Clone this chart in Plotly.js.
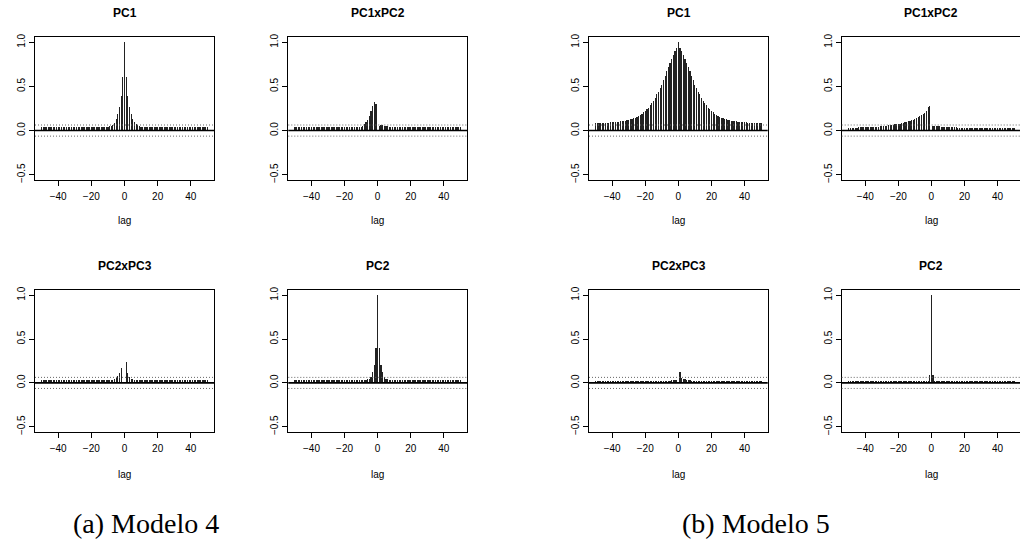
<!DOCTYPE html>
<html>
<head>
<meta charset="utf-8">
<script src="https://cdn.plot.ly/plotly-3.0.1.min.js"></script>
<style>html,body{margin:0;padding:0;background:#fff;}#chart{width:1020px;height:540px;}</style>
</head>
<body>
<div id="chart"></div>
<script>
// ---- data (lags -50 .. 50) ----
const lags = Array.from({length: 101}, (_, i) => i - 50);
const ciLimit = 0.063;
const xTickVals = [-40, -20, 0, 20, 40];
const yTickVals = [-0.5, 0, 0.5, 1];
const xLabel = "lag";
const captions = ["(a) Modelo 4", "(b) Modelo 5"];
const panelTitles = ["PC1", "PC1xPC2", "PC1", "PC1xPC2", "PC2xPC3", "PC2", "PC2xPC3", "PC2"];

const m4_PC1 = [
  0.036,0.036,0.037,0.037,0.037,0.037,0.037,0.037,0.037,0.037,
  0.037,0.037,0.037,0.036,0.036,0.036,0.036,0.036,0.036,0.036,
  0.036,0.036,0.036,0.036,0.036,0.036,0.036,0.037,0.037,0.037,
  0.037,0.037,0.037,0.037,0.038,0.038,0.039,0.040,0.041,0.042,
  0.045,0.050,0.056,0.068,0.090,0.130,0.190,0.270,0.390,0.610,
  1.000,
  0.610,0.390,0.270,0.185,0.130,0.095,0.072,0.058,0.050,0.045,
  0.042,0.040,0.039,0.038,0.038,0.037,0.037,0.037,0.037,0.037,
  0.036,0.036,0.036,0.036,0.036,0.036,0.036,0.036,0.036,0.036,
  0.036,0.036,0.036,0.036,0.036,0.036,0.036,0.036,0.036,0.036,
  0.036,0.036,0.036,0.036,0.036,0.036,0.036,0.036,0.036,0.036
];
const m4_PC1xPC2 = [
  0.036,0.036,0.036,0.036,0.036,0.036,0.036,0.036,0.036,0.036,
  0.036,0.036,0.036,0.036,0.036,0.036,0.036,0.036,0.036,0.036,
  0.036,0.036,0.036,0.036,0.036,0.036,0.036,0.036,0.036,0.036,
  0.036,0.036,0.036,0.037,0.037,0.037,0.038,0.039,0.040,0.042,
  0.045,0.055,0.070,0.095,0.125,0.165,0.220,0.275,0.325,0.300,
  0.005,
  0.050,0.060,0.058,0.055,0.052,0.049,0.046,0.044,0.042,0.041,
  0.040,0.039,0.038,0.038,0.037,0.037,0.037,0.036,0.036,0.036,
  0.035,0.035,0.035,0.035,0.035,0.035,0.035,0.035,0.035,0.035,
  0.035,0.035,0.035,0.035,0.035,0.035,0.035,0.035,0.035,0.035,
  0.035,0.035,0.035,0.035,0.035,0.035,0.035,0.035,0.035,0.035
];
const m4_PC2xPC3 = [
  0.030,0.030,0.030,0.030,0.030,0.030,0.030,0.030,0.030,0.030,
  0.030,0.030,0.030,0.030,0.030,0.030,0.030,0.030,0.030,0.030,
  0.030,0.030,0.030,0.030,0.030,0.030,0.030,0.030,0.030,0.030,
  0.030,0.030,0.030,0.030,0.030,0.030,0.030,0.031,0.031,0.032,
  0.032,0.033,0.035,0.038,0.045,0.060,0.083,0.110,0.167,0.000,
  0.000,
  0.240,0.114,0.064,0.048,0.040,0.036,0.034,0.032,0.031,0.031,
  0.030,0.030,0.030,0.030,0.030,0.030,0.030,0.030,0.030,0.030,
  0.030,0.030,0.030,0.030,0.030,0.030,0.030,0.030,0.030,0.030,
  0.030,0.030,0.030,0.030,0.030,0.030,0.030,0.030,0.030,0.030,
  0.030,0.030,0.030,0.030,0.030,0.030,0.030,0.030,0.030,0.030
];
const m4_PC2 = [
  0.030,0.030,0.030,0.030,0.030,0.030,0.030,0.030,0.030,0.030,
  0.030,0.030,0.030,0.030,0.030,0.030,0.030,0.030,0.030,0.030,
  0.030,0.030,0.030,0.030,0.030,0.030,0.030,0.030,0.030,0.030,
  0.030,0.030,0.030,0.030,0.030,0.030,0.030,0.030,0.030,0.030,
  0.030,0.031,0.032,0.035,0.040,0.050,0.070,0.120,0.210,0.400,
  1.000,
  0.400,0.210,0.120,0.070,0.050,0.040,0.035,0.032,0.031,0.030,
  0.030,0.030,0.030,0.030,0.030,0.030,0.030,0.030,0.030,0.030,
  0.030,0.030,0.030,0.030,0.030,0.030,0.030,0.030,0.030,0.030,
  0.030,0.030,0.030,0.030,0.030,0.030,0.030,0.030,0.030,0.030,
  0.030,0.030,0.030,0.030,0.030,0.030,0.030,0.030,0.030,0.030
];
const m5_PC1 = [
  0.089,0.089,0.089,0.089,0.089,0.090,0.090,0.090,0.091,0.092,
  0.093,0.094,0.096,0.098,0.100,0.103,0.106,0.109,0.113,0.117,
  0.122,0.127,0.132,0.138,0.145,0.155,0.165,0.175,0.190,0.205,
  0.220,0.240,0.260,0.285,0.310,0.340,0.370,0.410,0.440,0.480,
  0.520,0.570,0.620,0.670,0.720,0.770,0.810,0.855,0.900,0.940,
  1.000,
  0.940,0.900,0.855,0.810,0.770,0.720,0.670,0.620,0.570,0.520,
  0.480,0.440,0.410,0.370,0.340,0.310,0.285,0.260,0.240,0.220,
  0.205,0.190,0.175,0.165,0.155,0.145,0.138,0.132,0.127,0.122,
  0.117,0.113,0.109,0.106,0.103,0.100,0.098,0.096,0.094,0.093,
  0.092,0.091,0.090,0.090,0.090,0.089,0.089,0.089,0.089,0.089
];
const m5_PC1xPC2 = [
  0.032,0.032,0.033,0.033,0.034,0.034,0.035,0.035,0.036,0.036,
  0.037,0.038,0.039,0.040,0.041,0.042,0.043,0.045,0.046,0.048,
  0.050,0.052,0.054,0.056,0.058,0.060,0.063,0.066,0.069,0.072,
  0.076,0.080,0.084,0.088,0.093,0.098,0.104,0.110,0.117,0.125,
  0.133,0.142,0.152,0.163,0.175,0.188,0.203,0.220,0.262,0.275,
  0.005,
  0.050,0.055,0.052,0.050,0.048,0.046,0.044,0.042,0.041,0.040,
  0.039,0.038,0.037,0.036,0.035,0.034,0.034,0.033,0.033,0.032,
  0.032,0.032,0.032,0.031,0.031,0.031,0.031,0.031,0.031,0.031,
  0.031,0.031,0.031,0.031,0.031,0.031,0.031,0.031,0.031,0.031,
  0.031,0.031,0.031,0.031,0.031,0.031,0.031,0.031,0.031,0.031
];
const m5_PC2xPC3 = [
  0.025,0.025,0.025,0.025,0.025,0.025,0.025,0.025,0.025,0.025,
  0.025,0.025,0.025,0.025,0.025,0.025,0.025,0.025,0.025,0.025,
  0.025,0.025,0.025,0.025,0.025,0.025,0.025,0.025,0.025,0.025,
  0.025,0.025,0.025,0.025,0.025,0.025,0.025,0.025,0.025,0.025,
  0.025,0.025,0.025,0.026,0.026,0.027,0.028,0.030,0.032,0.035,
  0.000,
  0.120,0.060,0.050,0.040,0.035,0.030,0.028,0.027,0.026,0.026,
  0.025,0.025,0.025,0.025,0.025,0.025,0.025,0.025,0.025,0.025,
  0.025,0.025,0.025,0.025,0.025,0.025,0.025,0.025,0.025,0.025,
  0.025,0.025,0.025,0.025,0.025,0.025,0.025,0.025,0.025,0.025,
  0.025,0.025,0.025,0.025,0.025,0.025,0.025,0.025,0.025,0.025
];
const m5_PC2 = [
  0.026,0.026,0.026,0.026,0.026,0.026,0.026,0.026,0.026,0.026,
  0.026,0.026,0.026,0.026,0.026,0.026,0.026,0.026,0.026,0.026,
  0.026,0.026,0.026,0.026,0.026,0.026,0.026,0.026,0.026,0.026,
  0.026,0.026,0.026,0.026,0.026,0.026,0.026,0.026,0.026,0.026,
  0.026,0.026,0.026,0.026,0.026,0.026,0.026,0.026,0.027,0.090,
  1.000,
  0.090,0.027,0.026,0.026,0.026,0.026,0.026,0.026,0.026,0.026,
  0.026,0.026,0.026,0.026,0.026,0.026,0.026,0.026,0.026,0.026,
  0.026,0.026,0.026,0.026,0.026,0.026,0.026,0.026,0.026,0.026,
  0.026,0.026,0.026,0.026,0.026,0.026,0.026,0.026,0.026,0.026,
  0.026,0.026,0.026,0.026,0.026,0.026,0.026,0.026,0.026,0.026
];
const panelSeries = [m4_PC1, m4_PC1xPC2, m5_PC1, m5_PC1xPC2, m4_PC2xPC3, m4_PC2, m5_PC2xPC3, m5_PC2];

// ---- layout geometry ----
const W = 1020, H = 540;
const colPx = [[35, 214], [288.3, 467], [589, 767.7], [841.7, 1020]];
const rowPx = [[37, 180], [290, 432]];
const titleY = [13, 266];
const lagY = [220, 474];

const layout = {
  width: W, height: H,
  margin: {l: 0, r: 0, t: 0, b: 0},
  showlegend: false,
  paper_bgcolor: '#fff', plot_bgcolor: '#fff',
  font: {family: 'Liberation Sans, Arial, sans-serif', size: 10, color: '#000'},
  bargap: 0,
  shapes: [], annotations: []
};
const traces = [];

panelSeries.forEach((vals, k) => {
  const i = k + 1;
  const row = k < 4 ? 0 : 1;
  const col = k % 4;
  const xs = i === 1 ? '' : String(i);
  const [x0, x1] = colPx[col];
  const [y0, y1] = rowPx[row];
  const lastCol = col === 3;
  const xr = lastCol ? [-54.3, -54.3 + (x1 - x0) / 1.652] : [-54, 54];
  layout['xaxis' + xs] = {
    domain: [x0 / W, x1 / W], range: xr, anchor: 'y' + xs,
    tickvals: xTickVals, ticks: 'outside', ticklen: 5, tickwidth: 1, tickcolor: '#000',
    showline: true, mirror: true, linecolor: '#000', linewidth: 1,
    showgrid: false, zeroline: false, fixedrange: true,
    tickfont: {size: 10}, ticklabelstandoff: 2
  };
  layout['yaxis' + xs] = {
    domain: [(H - y1) / H, (H - y0) / H], range: [-0.56, 1.06], anchor: 'x' + xs,
    tickvals: yTickVals, tickformat: '.1f', tickangle: -90,
    ticks: 'outside', ticklen: 5, tickwidth: 1, tickcolor: '#000',
    showline: true, mirror: !lastCol, linecolor: '#000', linewidth: 1,
    showgrid: false, zeroline: false, fixedrange: true,
    tickfont: {size: 10}, ticklabelstandoff: 1.5
  };
  traces.push({
    type: 'bar', x: lags, y: vals, width: 0.72,
    marker: {color: '#222', line: {width: 0}},
    xaxis: 'x' + xs, yaxis: 'y' + xs, hoverinfo: 'x+y'
  });
  const xd = 'x' + xs + ' domain';
  layout.shapes.push({type: 'line', xref: xd, x0: 0, x1: 1, yref: 'y' + xs, y0: 0, y1: 0,
    line: {color: '#000', width: 1.6}});
  [ciLimit, -ciLimit].forEach(v => layout.shapes.push({type: 'line', xref: xd, x0: 0, x1: 1,
    yref: 'y' + xs, y0: v, y1: v, line: {color: '#666', width: 1, dash: '1px,2px'}}));
  const cx = ((colPx[col][0] + Math.min(colPx[col][0] + 179, 1020.7)) / 2) / W;
  layout.annotations.push({text: '<b>' + panelTitles[k] + '</b>', xref: 'paper', yref: 'paper',
    x: cx, y: (H - titleY[row]) / H, xanchor: 'center', yanchor: 'middle', showarrow: false,
    font: {size: 12}});
  layout.annotations.push({text: xLabel, xref: 'paper', yref: 'paper',
    x: cx, y: (H - lagY[row]) / H, xanchor: 'center', yanchor: 'middle', showarrow: false,
    font: {size: 10}});
});

[[146, captions[0]], [756, captions[1]]].forEach(([px, t]) => layout.annotations.push({
  text: t, xref: 'paper', yref: 'paper', x: px / W, y: (H - 523) / H,
  xanchor: 'center', yanchor: 'middle', showarrow: false,
  font: {family: 'Liberation Serif, Times New Roman, serif', size: 28, color: '#000'}
}));

Plotly.newPlot('chart', traces, layout, {staticPlot: true, displayModeBar: false});
</script>
</body>
</html>
